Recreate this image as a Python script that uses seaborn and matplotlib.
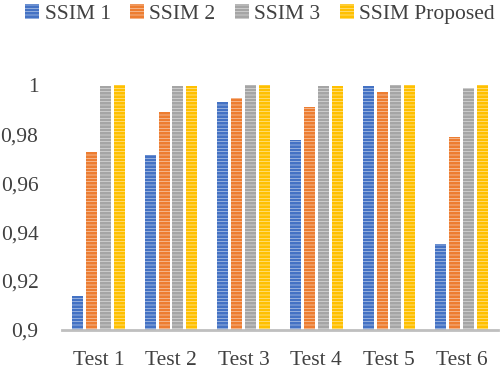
import matplotlib
matplotlib.use("Agg")
import matplotlib.pyplot as plt
import seaborn as sns
import pandas as pd
from matplotlib.ticker import FuncFormatter

tests = ["Test 1", "Test 2", "Test 3", "Test 4", "Test 5", "Test 6"]
series = ["SSIM 1", "SSIM 2", "SSIM 3", "SSIM Proposed"]
ssim1 = [0.914, 0.9714, 0.9932, 0.9776, 0.9997, 0.9351]
ssim2 = [0.9728, 0.989, 0.9946, 0.9911, 0.997, 0.9787]
ssim3 = [0.9997, 0.9996, 0.9999, 0.9997, 0.9999, 0.9989]
ssimp = [1.0, 0.9996, 1.0, 0.9998, 1.0, 1.0]
colors = ["#4472C4", "#ED7D31", "#A5A5A5", "#FFC000"]
yticks = [0.9, 0.92, 0.94, 0.96, 0.98, 1.0]

rows = []
for name, vals in zip(series, [ssim1, ssim2, ssim3, ssimp]):
    for t, v in zip(tests, vals):
        rows.append({"Test": t, "Series": name, "Value": v})
df = pd.DataFrame(rows)

sns.set_theme(style="white")
plt.rcParams["font.family"] = ["Liberation Serif", "DejaVu Serif"]
plt.rcParams["hatch.color"] = "white"
plt.rcParams["hatch.linewidth"] = 0.3

fig = plt.figure(figsize=(5.0, 3.71), dpi=100)
ax = fig.add_axes([0.124, 0.1105, 0.872, 0.693])

sns.barplot(data=df, x="Test", y="Value", hue="Series", palette=colors,
            width=0.76, gap=0.2, ax=ax, saturation=1)

for p in ax.patches:
    p.set_hatch("-----")
    p.set_linewidth(0)

ax.set_ylim(0.9, 1.005)
ax.set_xlim(-0.5, 5.5)
ax.set_yticks(yticks)
ax.yaxis.set_major_formatter(FuncFormatter(lambda v, p: ("%g" % round(v, 2)).replace(".", ",")))
ax.set_xlabel("")
ax.set_ylabel("")
ax.tick_params(axis="both", labelsize=15.5, colors="#404040", length=0)
ax.tick_params(axis="x", pad=15)
ax.tick_params(axis="y", pad=17)
for s in ["top", "right", "left"]:
    ax.spines[s].set_visible(False)
ax.spines["bottom"].set_color("#BFBFBF")
ax.spines["bottom"].set_linewidth(2)

handles, labels = ax.get_legend_handles_labels()
ax.legend(handles, labels, loc="center", ncol=4, frameon=False, fontsize=15.5,
          handlelength=0.65, handleheight=0.65, handletextpad=0.25,
          columnspacing=0.9, labelcolor="#404040",
          bbox_to_anchor=(0.52, 0.962), bbox_transform=fig.transFigure)

fig.savefig("out.png", dpi=100)
